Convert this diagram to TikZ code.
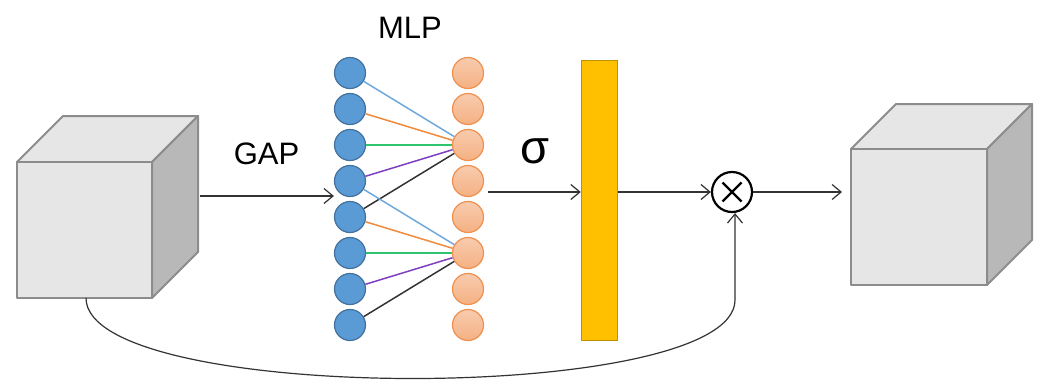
\documentclass[tikz,border=0pt]{standalone}
\usepackage{fontspec}
\setmainfont{Liberation Sans}
\usetikzlibrary{arrows.meta,calc}
\definecolor{facelight}{HTML}{E6E6E6}
\definecolor{faceside}{HTML}{B8B8B8}
\definecolor{edgegray}{HTML}{8C8C8C}
\definecolor{bluefill}{HTML}{5B9BD5}
\definecolor{blueedge}{HTML}{41719C}
\definecolor{orangetop}{HTML}{F8CBAD}
\definecolor{orangebot}{HTML}{F4B183}
\definecolor{orangeedge}{HTML}{F0904F}
\definecolor{barfill}{HTML}{FFC000}
\definecolor{baredge}{HTML}{BF9000}
\definecolor{linkblue}{HTML}{6FA8DC}
\definecolor{linkorange}{HTML}{F08A3C}
\definecolor{linkgreen}{HTML}{2EC46E}
\definecolor{linkpurple}{HTML}{7F3FBF}
\definecolor{linkblack}{HTML}{333333}
\tikzset{
  flow/.style={draw=black!80, line width=1.2pt, -{Straight Barb[length=9pt,width=15pt,line width=1.2pt]}},
  unitin/.style={circle, minimum size=31pt, inner sep=0pt, fill=bluefill, draw=blueedge, line width=1.2pt},
  unitout/.style={circle, minimum size=31pt, inner sep=0pt, top color=orangetop, bottom color=orangebot, draw=orangeedge, line width=1.2pt},
  link/.style={line width=1.5pt},
  cubeedge/.style={draw=edgegray, line width=2pt, line join=round},
  lbl/.style={font=\fontsize{31}{36}\selectfont, inner sep=0pt}
}
\newcommand{\featcube}[5]{%
  % #1,#2: front-face lower-left corner; #3: width; #4: height; #5: depth offset
  \fill[facelight, cubeedge] (#1,#2) -- ++(#5,-#5) -- ++(#3,0) -- ++(-#5,#5) -- cycle;
  \fill[faceside, cubeedge] (#1+#3,#2) -- ++(#5,-#5) -- ++(0,#4) -- ++(-#5,#5) -- cycle;
  \fill[facelight, cubeedge] (#1,#2) rectangle ++(#3,#4);
}
\begin{document}
\begin{tikzpicture}[x=1pt, y=-1pt]
\useasboundingbox (0,0) rectangle (1038,381);

% input and output feature cubes
\featcube{17}{162}{135}{136}{46}
\featcube{851}{149}{136}{136}{45}
\coordinate (inright) at (200,196);
\coordinate (inbottom) at (86,298);
\coordinate (outleft) at (842,192);

% MLP layers
\foreach \i in {1,...,8} {
  \node[unitin] (b\i) at (350,{73+36*(\i-1)}) {};
  \node[unitout] (o\i) at (468,{73+36*(\i-1)}) {};
}
\draw[link, linkblue]   (b1) -- (o3);
\draw[link, linkorange] (b2) -- (o3);
\draw[link, linkgreen]  (b3) -- (o3);
\draw[link, linkpurple] (b4) -- (o3);
\draw[link, linkblack]  (b5) -- (o3);
\draw[link, linkblue]   (b4) -- (o6);
\draw[link, linkorange] (b5) -- (o6);
\draw[link, linkgreen]  (b6) -- (o6);
\draw[link, linkpurple] (b7) -- (o6);
\draw[link, linkblack]  (b8) -- (o6);

% attention weights bar
\node[rectangle, fill=barfill, draw=baredge, line width=1.5pt, minimum width=36pt, minimum height=280pt, inner sep=0pt] (bar) at (599.5,200.5) {};

% multiplication node
\node[circle, draw=black, line width=2.2pt, minimum size=40pt, inner sep=0pt] (mul) at (732,192) {};
\draw[line width=2.2pt] ($(mul)+(-9.5,-9.5)$) -- ($(mul)+(9.5,9.5)$);
\draw[line width=2.2pt] ($(mul)+(-9.5,9.5)$) -- ($(mul)+(9.5,-9.5)$);

% labels
\node[lbl] (gap) at (266.5,154) {GAP};
\node[lbl] (mlp) at (410,28) {MLP};
\node[font=\fontsize{47}{52}\selectfont, inner sep=0pt] (sig) at (534.5,151.5) {σ};

% data flow
\coordinate (o4r) at (488,192);
\draw[flow] (inright) -- (b4.west |- inright);
\draw[flow] (o4r) -- (bar.west |- o4r);
\draw[flow] (bar.east |- mul) -- (mul);
\draw[flow] (mul) -- (outleft);
\coordinate (turn) at (735,300);
\draw[flow] (inbottom) .. controls +(0,107) and +(0,105) .. (turn) -- (mul.south -| turn);
\end{tikzpicture}
\end{document}
